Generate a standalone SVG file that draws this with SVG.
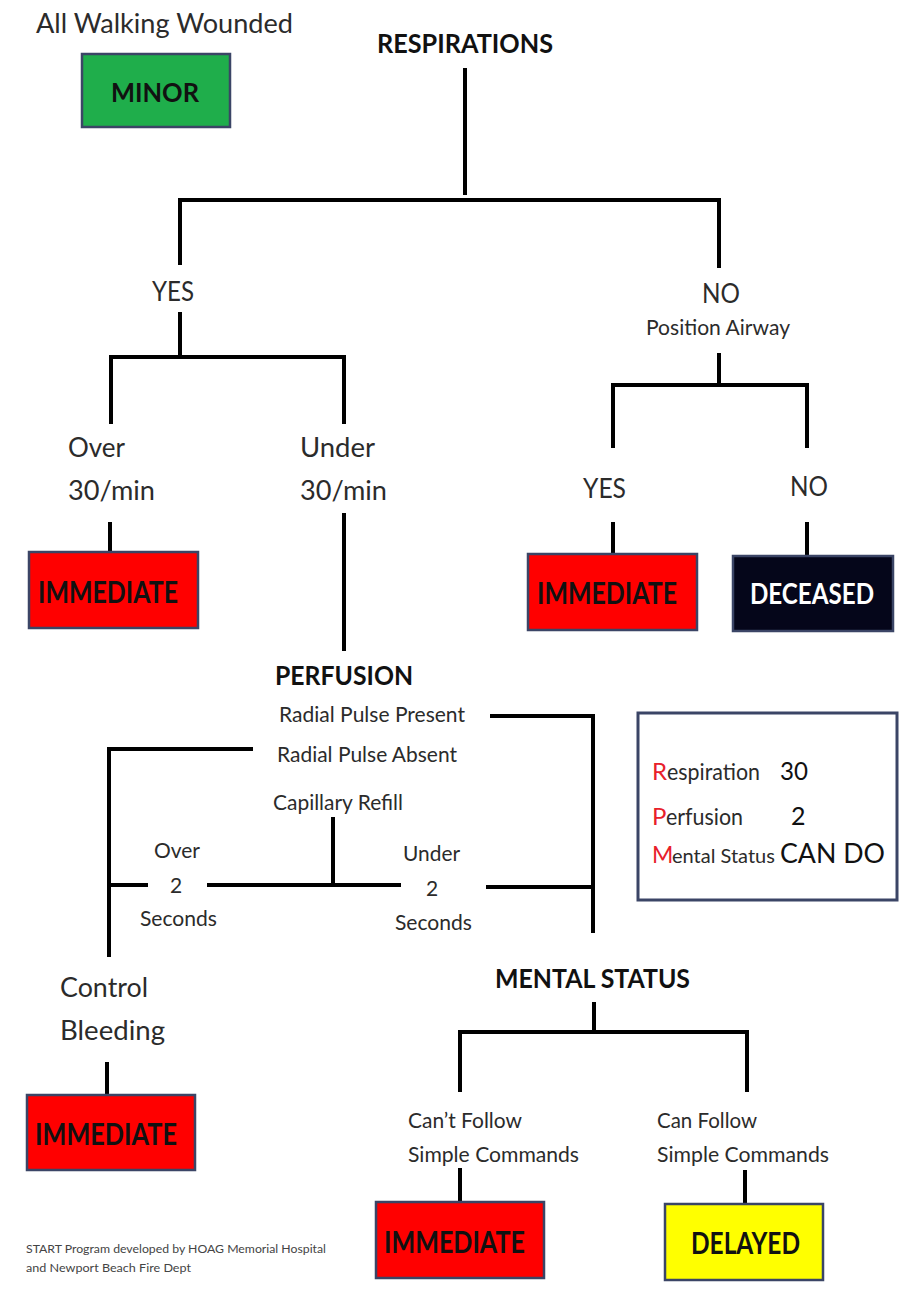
<svg xmlns="http://www.w3.org/2000/svg" width="899" height="1291" viewBox="0 0 899 1291">
<style>
.t{font-family:Lato,'Liberation Sans',sans-serif;fill:#2b2b2b}
.b{font-weight:bold;fill:#111}
.ln{stroke:#000;stroke-width:4;fill:none;stroke-linecap:butt}
.box{stroke:#3b4566;stroke-width:2.5}
.rl{fill:#e8202a}
</style>
<rect width="899" height="1291" fill="#ffffff"/>

<g id="connectors">
  <path class="ln" d="M465,68 V195"/>
  <path class="ln" d="M180,265 V200 H719 V268"/>
  <path class="ln" d="M180,312 V357"/>
  <path class="ln" d="M111,424 V357 H344 V424"/>
  <path class="ln" d="M110,522 V552"/>
  <path class="ln" d="M344,513 V651"/>
  <path class="ln" d="M719,353 V385"/>
  <path class="ln" d="M613,448 V385 H807 V448"/>
  <path class="ln" d="M613,522 V554"/>
  <path class="ln" d="M807,522 V556"/>
  <path class="ln" d="M490,716 H593 V933"/>
  <path class="ln" d="M253,749 H109 V957"/>
  <path class="ln" d="M333,817 V885"/>
  <path class="ln" d="M109,885 H148"/>
  <path class="ln" d="M207,885 H401"/>
  <path class="ln" d="M486,887 H593"/>
  <path class="ln" d="M107,1062 V1095"/>
  <path class="ln" d="M594,1002 V1032"/>
  <path class="ln" d="M460,1092 V1032 H747 V1092"/>
  <path class="ln" d="M460,1168 V1202"/>
  <path class="ln" d="M745,1170 V1204"/>
</g>

<g id="walking">
  <text class="t" x="36" y="33" font-size="27" textLength="257" lengthAdjust="spacingAndGlyphs">All Walking Wounded</text>
</g>
<g id="minor">
  <rect class="box" x="82" y="54" width="148" height="73" fill="#1fae4b"/>
  <text class="t b" x="111" y="102" font-size="27" textLength="88" lengthAdjust="spacingAndGlyphs">MINOR</text>
</g>
<g id="respirations">
  <text class="t b" x="377" y="53" font-size="26" textLength="176" lengthAdjust="spacingAndGlyphs">RESPIRATIONS</text>
</g>
<g id="yes1">
  <text class="t" x="152" y="301" font-size="27" textLength="42" lengthAdjust="spacingAndGlyphs">YES</text>
</g>
<g id="no1">
  <text class="t" x="702" y="303" font-size="27" textLength="38" lengthAdjust="spacingAndGlyphs">NO</text>
  <text class="t" x="646" y="335" font-size="21" textLength="144" lengthAdjust="spacingAndGlyphs">Position Airway</text>
</g>
<g id="over30">
  <text class="t" x="68" y="457" font-size="27" textLength="57" lengthAdjust="spacingAndGlyphs">Over</text>
  <text class="t" x="68" y="500" font-size="27" textLength="87" lengthAdjust="spacingAndGlyphs">30/min</text>
</g>
<g id="under30">
  <text class="t" x="300" y="457" font-size="27" textLength="75" lengthAdjust="spacingAndGlyphs">Under</text>
  <text class="t" x="300" y="500" font-size="27" textLength="87" lengthAdjust="spacingAndGlyphs">30/min</text>
</g>
<g id="immediate1">
  <rect class="box" x="29" y="552" width="169" height="76" fill="#ff0000"/>
  <text class="t b" x="38" y="603" font-size="31" textLength="140" lengthAdjust="spacingAndGlyphs">IMMEDIATE</text>
</g>
<g id="yes2">
  <text class="t" x="583" y="498" font-size="27" textLength="43" lengthAdjust="spacingAndGlyphs">YES</text>
</g>
<g id="no2">
  <text class="t" x="790" y="496" font-size="27" textLength="38" lengthAdjust="spacingAndGlyphs">NO</text>
</g>
<g id="immediate2">
  <rect class="box" x="528" y="554" width="169" height="76" fill="#ff0000"/>
  <text class="t b" x="537" y="604" font-size="31" textLength="140" lengthAdjust="spacingAndGlyphs">IMMEDIATE</text>
</g>
<g id="deceased">
  <rect class="box" x="733" y="556" width="160" height="75" fill="#05061a"/>
  <text class="t b" x="750" y="604" font-size="29" style="fill:#ffffff" textLength="124" lengthAdjust="spacingAndGlyphs">DECEASED</text>
</g>
<g id="perfusion">
  <text class="t b" x="275" y="685" font-size="27" textLength="138" lengthAdjust="spacingAndGlyphs">PERFUSION</text>
  <text class="t" x="279" y="722" font-size="21" textLength="186" lengthAdjust="spacingAndGlyphs">Radial Pulse Present</text>
  <text class="t" x="277" y="762" font-size="21" textLength="180" lengthAdjust="spacingAndGlyphs">Radial Pulse Absent</text>
  <text class="t" x="273" y="810" font-size="21" textLength="130" lengthAdjust="spacingAndGlyphs">Capillary Refill</text>
</g>
<g id="over2">
  <text class="t" x="154" y="858" font-size="21" textLength="46" lengthAdjust="spacingAndGlyphs">Over</text>
  <text class="t" x="170" y="893" font-size="21">2</text>
  <text class="t" x="140" y="926" font-size="21" textLength="77" lengthAdjust="spacingAndGlyphs">Seconds</text>
</g>
<g id="under2">
  <text class="t" x="403" y="861" font-size="21" textLength="57" lengthAdjust="spacingAndGlyphs">Under</text>
  <text class="t" x="426" y="896" font-size="21">2</text>
  <text class="t" x="395" y="930" font-size="21" textLength="77" lengthAdjust="spacingAndGlyphs">Seconds</text>
</g>
<g id="rpm">
  <rect x="638" y="713" width="259" height="187" fill="#ffffff" stroke="#3b4566" stroke-width="3"/>
  <text class="t rl" x="652" y="780" font-size="24">R</text>
  <text class="t" x="667" y="780" font-size="24" textLength="93" lengthAdjust="spacingAndGlyphs">espiration</text>
  <text class="t" x="780" y="780" font-size="25" style="fill:#111" textLength="28" lengthAdjust="spacingAndGlyphs">30</text>
  <text class="t rl" x="652" y="825" font-size="24">P</text>
  <text class="t" x="666" y="825" font-size="24" textLength="77" lengthAdjust="spacingAndGlyphs">erfusion</text>
  <text class="t" x="791" y="825" font-size="25" style="fill:#111">2</text>
  <text class="t rl" x="652" y="863" font-size="23">M</text>
  <text class="t" x="672" y="863" font-size="20">ental Status</text>
  <text class="t" x="780" y="863" font-size="26" style="fill:#111" textLength="105" lengthAdjust="spacingAndGlyphs">CAN DO</text>
</g>
<g id="control">
  <text class="t" x="60" y="997" font-size="27" textLength="88" lengthAdjust="spacingAndGlyphs">Control</text>
  <text class="t" x="60" y="1040" font-size="27" textLength="105" lengthAdjust="spacingAndGlyphs">Bleeding</text>
</g>
<g id="immediate3">
  <rect class="box" x="27" y="1095" width="168" height="75" fill="#ff0000"/>
  <text class="t b" x="35" y="1145" font-size="31" textLength="142" lengthAdjust="spacingAndGlyphs">IMMEDIATE</text>
</g>
<g id="mental">
  <text class="t b" x="495" y="988" font-size="27" textLength="195" lengthAdjust="spacingAndGlyphs">MENTAL STATUS</text>
</g>
<g id="cantfollow">
  <text class="t" x="408" y="1128" font-size="22" textLength="114" lengthAdjust="spacingAndGlyphs">Can’t Follow</text>
  <text class="t" x="408" y="1162" font-size="22" textLength="171" lengthAdjust="spacingAndGlyphs">Simple Commands</text>
</g>
<g id="canfollow">
  <text class="t" x="657" y="1128" font-size="22" textLength="100" lengthAdjust="spacingAndGlyphs">Can Follow</text>
  <text class="t" x="657" y="1162" font-size="22" textLength="172" lengthAdjust="spacingAndGlyphs">Simple Commands</text>
</g>
<g id="immediate4">
  <rect class="box" x="376" y="1202" width="168" height="76" fill="#ff0000"/>
  <text class="t b" x="384" y="1253" font-size="31" textLength="141" lengthAdjust="spacingAndGlyphs">IMMEDIATE</text>
</g>
<g id="delayed">
  <rect class="box" x="665" y="1204" width="158" height="76" fill="#ffff00"/>
  <text class="t b" x="691" y="1254" font-size="30" textLength="109" lengthAdjust="spacingAndGlyphs">DELAYED</text>
</g>
<g id="footnote">
  <text class="t" x="26" y="1253" font-size="11" style="fill:#444" textLength="300" lengthAdjust="spacingAndGlyphs">START Program developed by HOAG Memorial Hospital</text>
  <text class="t" x="26" y="1272" font-size="11" style="fill:#444" textLength="165" lengthAdjust="spacingAndGlyphs">and Newport Beach Fire Dept</text>
</g>
</svg>
